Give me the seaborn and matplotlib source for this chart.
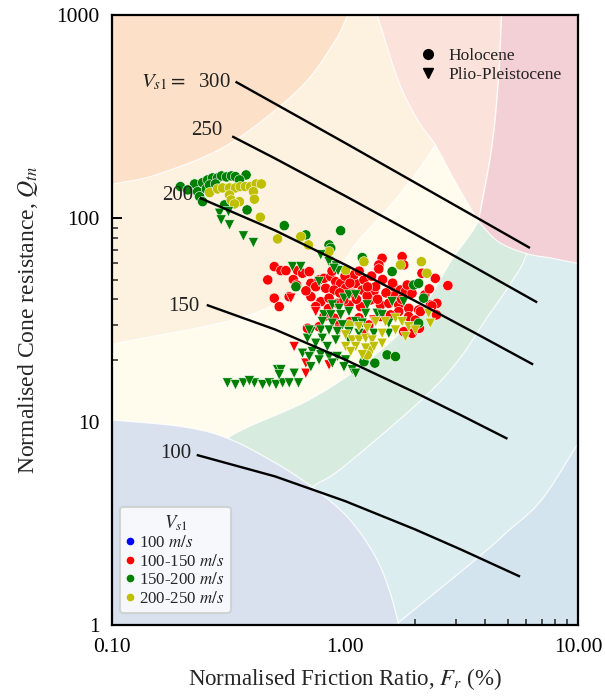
import numpy as np
import pandas as pd
import matplotlib
matplotlib.use('Agg')
import matplotlib.pyplot as plt
import seaborn as sns
from matplotlib.lines import Line2D
from matplotlib.ticker import FixedLocator, FixedFormatter, NullFormatter, LogLocator

# ---------------- data ----------------
# Holocene (circles)
holo_r_F = [0.497,0.531,0.558,0.466,0.626,0.657,0.702,0.714,0.774,0.813,0.869,0.913,0.958,0.749,0.827,0.897,
            1.007,1.111,1.206,1.075,1.186,1.330,1.353,1.620,1.730,1.817,1.939,0.497,0.522,0.576,0.714,0.787,
            0.854,0.927,1.040,1.167,1.288,1.421,1.542,1.701,1.877,2.071,2.324,2.480,1.701,1.568,1.421,1.877,
            2.005,2.005,1.939,1.787,0.749,0.813,0.897,0.774,0.690,1.443,1.758,1.787,1.397,1.397,2.140,2.441,
            2.764,2.361,2.106,2.085,1.093,0.990,1.148,1.266,1.245,1.620,2.470,1.050,1.200,0.950,
            0.600,0.680,0.880,1.000,1.150,1.300,1.450,1.600,1.250,1.500,1.120,0.950,1.750,2.200,2.300,
            1.850,0.620,1.050,0.850,1.380]
holo_r_Q = [57.9,55.3,55.3,49.8,55.3,53.7,54.7,47.9,49.8,50.7,51.7,48.8,47.9,46.1,45.3,44.4,
            45.3,47.9,49.8,42.8,44.4,43.6,46.1,46.1,44.4,43.6,42.8,40.5,36.8,41.2,41.2,38.9,
            40.5,38.2,37.5,36.8,39.7,37.5,38.2,37.5,36.1,35.4,37.5,38.2,34.8,33.5,32.9,32.9,
            31.6,28.8,27.2,27.7,36.8,32.9,32.3,29.3,28.8,63.6,64.8,59.0,59.0,56.4,53.7,50.7,
            46.7,37.1,34.8,28.8,52.7,39.7,32.4,29.9,41.5,41.5,33.5,31.0,27.0,30.0,
            50.0,44.0,55.0,52.0,55.0,52.0,50.0,48.0,46.0,43.0,40.0,43.0,40.0,42.0,45.0,
            47.0,47.0,48.0,36.0,40.0]
holo_g_F = [0.1966,0.2263,0.2448,0.2572,0.270,0.2838,0.2952,0.310,0.3257,0.3388,0.3763,0.2330,0.2377,0.2448,
            0.2540,0.3041,0.380,0.5487,0.958,0.679,0.854,0.869,0.6156,1.186,1.593,1.972,2.071,2.176,2.071,
            1.516,1.647,1.206,1.343,0.2113,0.2623,0.3524,0.278]
holo_g_Q = [143.2,147.6,149.8,154.5,158.0,158.0,161.6,159.8,161.6,160.4,163.5,135.3,127.9,120.8,
            139.5,116.4,110.0,92.1,87.0,82.9,74.0,71.3,46.1,64.1,54.7,47.0,47.9,40.5,30.5,
            21.3,20.9,19.7,19.4,138.0,146.0,154.5,147.6]
holo_y_F = [0.2623,0.2838,0.2981,0.3193,0.3388,0.3548,0.3737,0.3926,0.4153,0.4375,0.4044,0.3193,0.3247,0.3524,
            0.3354,0.4084,0.4333,0.5137,0.6461,0.6970,0.854,1.007,1.206,1.730,2.127,2.247,1.040,1.266,1.245]
holo_y_Q = [133.8,139.5,141.1,141.1,141.1,143.2,143.2,143.2,147.6,147.6,135.3,130.3,123.1,120.8,
            117.7,124.2,101.3,79.2,81.3,74.0,68.6,55.7,61.2,59.0,61.2,53.7,29.9,22.5,21.3]
# Plio-Pleistocene (triangles)
plio_r_F = [0.586,0.749,0.605,0.679,0.679,0.854,0.943,1.330]
plio_r_Q = [40.5,34.8,23.4,19.4,17.3,19.0,28.2,31.6]
plio_g_F = [0.2894,0.2942,0.3162,0.3193,0.3665,0.4044,0.787,0.854,0.918,0.9335,0.5950,0.6461,0.774,
            0.897,0.990,1.040,1.111,1.245,1.593,1.787,0.8824,0.9427,0.813,0.869,0.958,1.040,1.226,1.374,
            1.443,0.799,0.8824,0.974,1.111,1.186,1.542,0.7135,0.787,0.854,0.927,1.040,1.148,1.330,1.542,
            0.690,0.799,0.913,1.040,0.749,0.840,0.724,0.787,0.854,0.927,1.007,0.774,0.8824,0.990,1.075,
            1.111,0.657,0.702,0.7135,0.702,0.4084,0.4431,0.4734,0.5058,0.5398,0.5764,0.6316,0.5137,0.531,
            0.522,0.605,0.3130,0.3388,0.3665,0.3888]
plio_g_Q = [105.9,98.2,107.9,92.8,81.9,75.9,66.1,61.2,58.3,55.3,57.9,57.9,48.8,
            56.8,40.5,42.0,42.0,37.5,38.9,38.9,37.5,36.1,33.5,33.5,33.5,34.8,34.1,34.1,
            33.5,31.0,30.5,29.9,31.0,30.5,30.5,27.7,28.2,28.2,27.7,27.7,27.2,27.2,27.2,
            25.7,25.7,25.2,25.2,24.3,23.4,22.1,21.3,20.9,20.9,20.1,20.1,19.4,18.6,18.0,
            17.3,21.7,20.9,18.6,28.2,15.5,15.2,15.5,15.2,15.5,15.5,15.5,18.0,18.0,
            17.0,17.3,15.5,15.2,15.5,15.9]
plio_y_F = [1.148,1.245,1.353,1.492,1.647,1.758,1.877,2.005,2.324,1.817,1.007,1.075,1.148,1.226,1.308,
            1.443,1.007,1.111,1.226,1.330,1.058,1.186,1.443,2.286,1.647]
plio_y_Q = [29.3,28.8,31.0,31.0,32.3,31.0,29.3,28.2,30.5,26.2,26.7,25.2,25.2,25.7,25.2,
            24.3,23.4,23.4,23.0,23.4,22.1,21.3,27.2,34.1,28.2]

vs_classes = ['100 m/s', '100-150 m/s', '150-200 m/s', '200-250 m/s']
vs_colors = ['b', 'r', 'g', 'y']
vs_legend_labels = ['100 $m/s$', '100-150 $m/s$', '150-200 $m/s$', '200-250 $m/s$']
ages = ['Holocene', 'Plio-Pleistocene']

# Vs1 iso-lines
vs_line_values = ['100', '150', '200', '250', '300']
vs_line_F = {'100': [0.231, 0.501, 1.0, 1.995, 3.16, 5.64],
             '150': [0.255, 0.501, 1.0, 1.995, 3.16, 4.98],
             '200': [0.238, 0.501, 1.0, 1.995, 3.55, 6.42],
             '250': [0.328, 0.501, 1.0, 1.995, 3.55, 6.68],
             '300': [0.339, 0.501, 1.0, 1.995, 3.55, 6.22]}
vs_line_Q = {'100': [6.86, 5.38, 4.07, 2.955, 2.345, 1.73],
             '150': [37.5, 28.4, 20.2, 13.93, 10.73, 8.24],
             '200': [126, 87.2, 59.2, 39.3, 27.6, 19.1],
             '250': [253, 197, 129, 83.8, 58.0, 38.6],
             '300': [470, 366, 235, 150, 103.1, 71.5]}
vs_label_F = {'100': 0.219, '150': 0.2377, '200': 0.224, '250': 0.297, '300': 0.325}
vs_label_Q = {'100': 7.0, '150': 36.8, '200': 130, '250': 270, '300': 470}

# soil-behaviour zone boundaries (F %, Q)
b1_F = [0.1, 0.2, 0.314, 0.506, 0.723, 0.974, 1.186, 1.40, 1.56, 1.66, 1.70]
b1_Q = [10.2, 9.45, 8.28, 6.24, 4.77, 3.60, 2.75, 2.0, 1.45, 1.12, 1.0]
b32_F = [1.647, 3.62, 5.02, 6.97, 10.0]
b32_Q = [1.0, 2.09, 2.9, 4.12, 7.8]
b43_F = [0.30, 0.50, 0.723, 0.971, 2.13, 3.07, 4.01, 5.02, 5.93, 6.5, 7.0]
b43_Q = [2.0, 3.4, 4.77, 5.92, 12.8, 20.1, 31.7, 46.0, 63.9, 100, 1000]
b54_F = [0.1, 0.2, 0.313, 0.701, 1.266, 2.07, 2.87, 3.81, 4.5, 5.0]
b54_Q = [3.0, 5.0, 8.31, 12.8, 20.1, 34.3, 62.4, 101.6, 200, 1000]
b65_F = [0.1, 0.389, 0.882, 1.148, 1.70, 2.44, 3.0, 3.5]
b65_Q = [24, 33.5, 55.7, 78.3, 130, 230, 400, 1000]
b76_F = [0.1, 0.158, 0.316, 0.631, 0.891, 1.03]
b76_Q = [147, 165, 231, 429, 722, 1000]
b8_F = [1.374, 1.70, 2.07, 2.44, 2.97, 3.74]
b8_Q = [1000, 470, 299, 230, 151.6, 96.4]
b89_F = [3.74, 4.26, 4.55, 4.70]
b89_Q = [96.4, 221, 470, 1000]
b9_F = [3.74, 4.55, 5.92, 7.67, 10.0]
b9_Q = [96.4, 76.8, 67.4, 63.7, 60.0]

zone_colors = {'1': '#d9e0ee', '2': '#d4e4ee', '3': '#dbedef', '4': '#d7ebdf', '5': '#fffcee',
               '6': '#fdf1e0', '7': '#fce0c8', '8': '#fbe2da', '9': '#f2d0d5'}


def smooth(F, Q, n=24):
    """Catmull-Rom curve through boundary points, in log-log space (background drawing only)."""
    P = np.column_stack([np.log10(F), np.log10(Q)])
    P = np.vstack([2 * P[0] - P[1], P, 2 * P[-1] - P[-2]])
    t = np.linspace(0, 1, n, endpoint=False)[:, None]
    segs = []
    for i in range(1, len(P) - 2):
        p0, p1, p2, p3 = P[i - 1], P[i], P[i + 1], P[i + 2]
        segs.append(0.5 * (2 * p1 + (-p0 + p2) * t + (2 * p0 - 5 * p1 + 4 * p2 - p3) * t ** 2
                           + (-p0 + 3 * p1 - 3 * p2 + p3) * t ** 3))
    segs.append(P[-2][None, :])
    A = np.vstack(segs)
    return list(10 ** A[:, 0]), list(10 ** A[:, 1])


# ---------------- table for seaborn ----------------
groups = [(holo_r_F, holo_r_Q, '100-150 m/s', 'Holocene'),
          (holo_g_F, holo_g_Q, '150-200 m/s', 'Holocene'),
          (holo_y_F, holo_y_Q, '200-250 m/s', 'Holocene'),
          (plio_r_F, plio_r_Q, '100-150 m/s', 'Plio-Pleistocene'),
          (plio_g_F, plio_g_Q, '150-200 m/s', 'Plio-Pleistocene'),
          (plio_y_F, plio_y_Q, '200-250 m/s', 'Plio-Pleistocene')]
df = pd.concat([pd.DataFrame({'F': f, 'Q': q, 'Vs1': c, 'Age': a}) for f, q, c, a in groups],
               ignore_index=True)

# ---------------- styling ----------------
sns.set_style('ticks')
plt.rcParams['font.family'] = ['Liberation Serif', 'DejaVu Serif']
plt.rcParams['mathtext.fontset'] = 'stix'

fig = plt.figure(figsize=(6.05, 6.97), dpi=100)
ax = fig.add_axes([112/605, 72/697, 466/605, 610/697])
ax.set_xscale('log')
ax.set_yscale('log')
ax.set_xlim(0.1, 10)
ax.set_ylim(1, 1000)

edge = (1, 1, 1, 0.85)
def zone(xs, ys, key, z):
    ax.fill(xs, ys, facecolor=zone_colors[key], edgecolor=edge, linewidth=0.9, zorder=z)

s32 = smooth(b32_F, b32_Q)
s43 = smooth(b43_F, b43_Q)
s54 = smooth(b54_F, b54_Q)
s65 = smooth(b65_F, b65_Q)
s76 = smooth(b76_F, b76_Q)
s1 = smooth(b1_F, b1_Q)
s8 = smooth(b8_F, b8_Q)
s89 = smooth(b89_F, b89_Q)
s9 = smooth(b9_F, b9_Q)

zone([0.1, 10, 10, 0.1], [1, 1, 1000, 1000], '2', 0.1)
zone(s32[0] + [10, 0.1, 0.1], s32[1] + [1000, 1000, 1], '3', 0.2)
zone(s43[0] + [0.1, 0.1], s43[1] + [1000, 1], '4', 0.3)
zone(s54[0] + [0.1], s54[1] + [1000], '5', 0.4)
zone(s65[0] + [0.1], s65[1] + [1000], '6', 0.5)
zone(s76[0] + [0.1], s76[1] + [1000], '7', 0.6)
zone(s1[0] + [0.1], s1[1] + [1], '1', 0.7)
zone(s8[0] + s89[0][1:], s8[1] + s89[1][1:], '8', 0.8)
zone(s89[0][::-1] + s9[0][1:] + [10], s89[1][::-1] + s9[1][1:] + [1000], '9', 0.9)

# scatter
palette = dict(zip(vs_classes, vs_colors))
sns.scatterplot(data=df, x='F', y='Q', hue='Vs1', style='Age', palette=palette,
                markers={'Holocene': 'o', 'Plio-Pleistocene': 'v'}, s=54,
                edgecolor='white', linewidth=0.4, legend=False, ax=ax, zorder=3)

# Vs1 lines
for v in vs_line_values:
    ax.plot(vs_line_F[v], vs_line_Q[v], color='k', lw=1.7, zorder=4, solid_capstyle='butt')
    lab = (r'$V_{s1} =$  ' + v) if v == '300' else v
    ax.text(vs_label_F[v], vs_label_Q[v], lab, ha='right', va='center', fontsize=15,
            color='#222222', zorder=5)

# axes styling
for s in ax.spines.values():
    s.set_linewidth(1.6)
    s.set_color('black')
    s.set_zorder(6)
ax.xaxis.set_major_locator(FixedLocator([0.1, 1, 10]))
ax.xaxis.set_major_formatter(FixedFormatter(['0.10', '1.00', '10.00']))
ax.yaxis.set_major_locator(FixedLocator([1, 10, 100, 1000]))
ax.yaxis.set_major_formatter(FixedFormatter(['1', '10', '100', '1000']))
ax.xaxis.set_minor_locator(LogLocator(base=10, subs=np.arange(2, 10)))
ax.yaxis.set_minor_locator(LogLocator(base=10, subs=np.arange(2, 10)))
ax.xaxis.set_minor_formatter(NullFormatter())
ax.yaxis.set_minor_formatter(NullFormatter())
ax.tick_params(which='major', direction='in', length=7, width=1.4, labelsize=15.5,
               top=False, right=False, colors='black')
ax.tick_params(which='minor', direction='in', length=4, width=1.1, top=False, right=False)
ax.tick_params(axis='x', which='major', pad=9)
ax.tick_params(axis='y', which='major', pad=9)
ax.set_xlabel(r'Normalised Friction Ratio, $F_r$ (%)', fontsize=16.5, labelpad=7)
ax.set_ylabel(r'Normalised Cone resistance, $Q_{tn}$', fontsize=17, labelpad=12)

# legend for geological age
age_handles = [Line2D([], [], marker='o', ls='', color='black', markersize=7),
               Line2D([], [], marker='v', ls='', color='black', markersize=7)]
leg1 = ax.legend(age_handles, ages, loc='upper left', bbox_to_anchor=(0.648, 0.955),
                 frameon=False, fontsize=12.5, handlelength=1.0, handletextpad=0.7,
                 borderpad=0.3, labelspacing=0.2, borderaxespad=0)
for t in leg1.get_texts():
    t.set_color('#222222')
leg1.set_zorder(7)
ax.add_artist(leg1)

vs_handles = [Line2D([], [], marker='o', ls='', color=c, markersize=4.5) for c in vs_colors]
leg2 = ax.legend(vs_handles, vs_legend_labels, title=r'$V_{s1}$', loc='lower left',
                 bbox_to_anchor=(0.017, 0.02), borderaxespad=0, fontsize=12.2,
                 title_fontsize=13.5, handlelength=0.5, handletextpad=0.3, borderpad=0.35,
                 labelspacing=0.15, frameon=True, fancybox=True, framealpha=0.8,
                 edgecolor='#cccccc', facecolor='white')
leg2.get_frame().set_linewidth(1.5)
leg2.set_zorder(7)

fig.savefig('out.png', dpi=100)
